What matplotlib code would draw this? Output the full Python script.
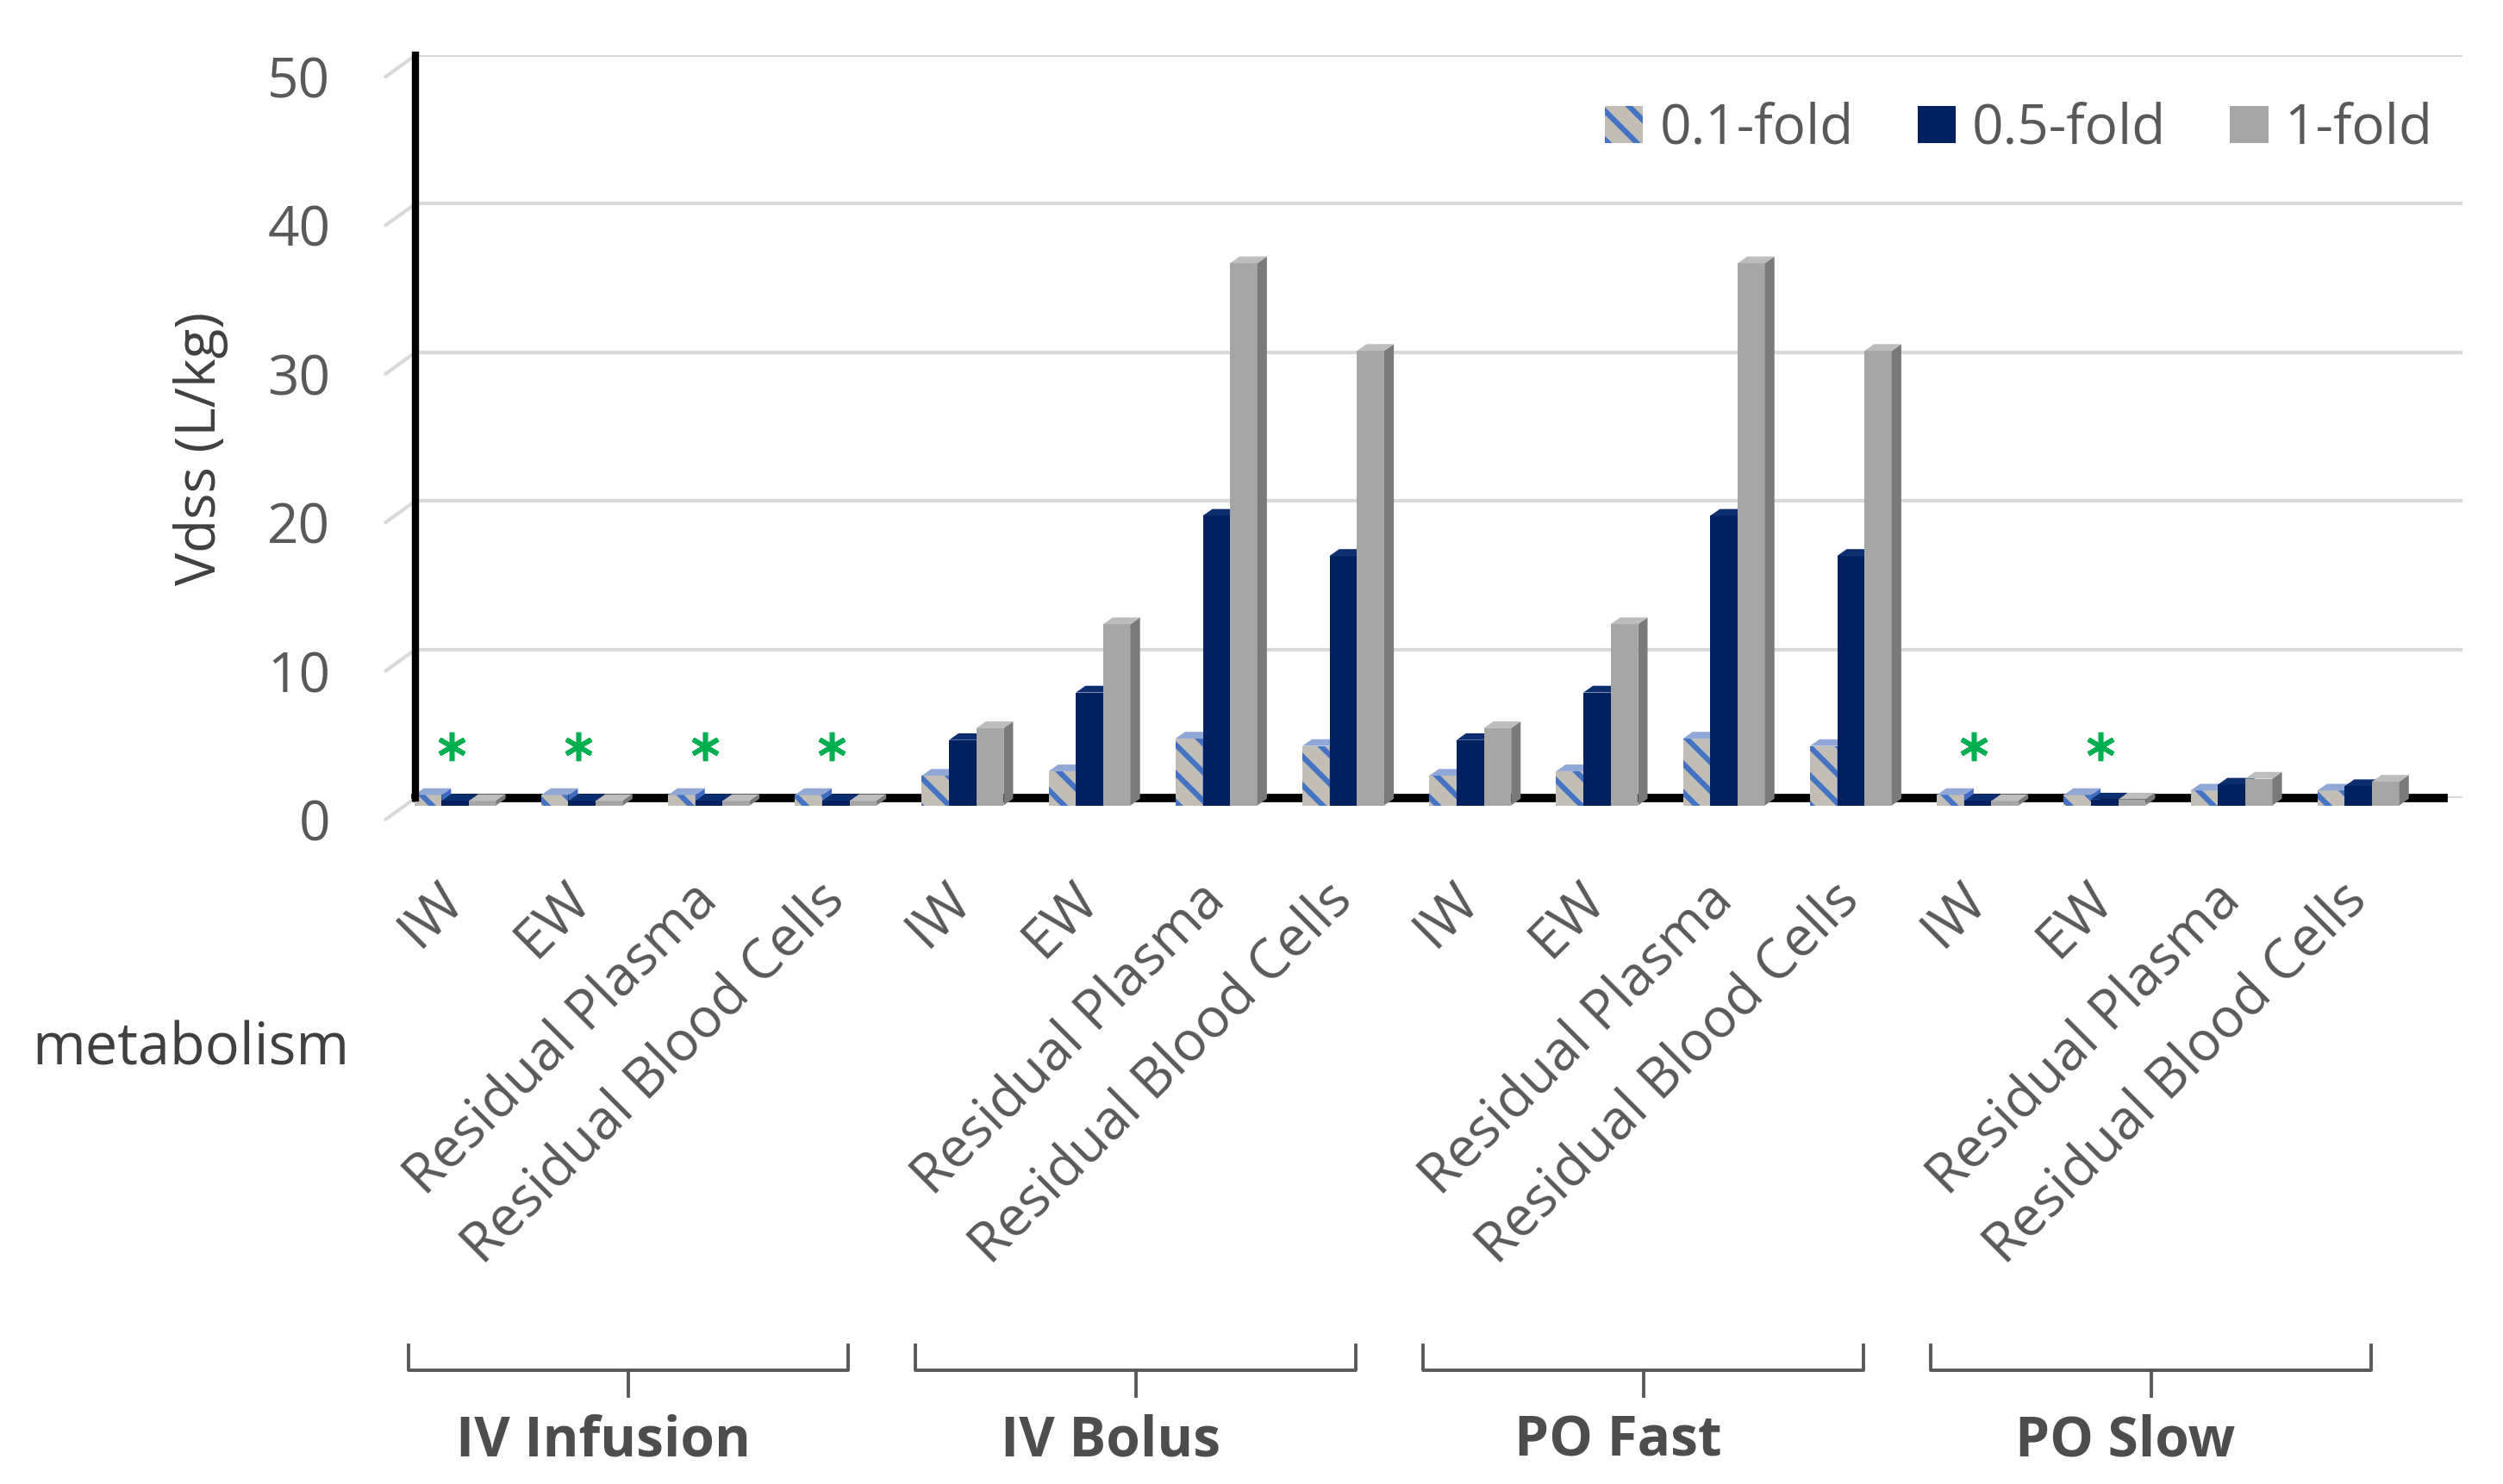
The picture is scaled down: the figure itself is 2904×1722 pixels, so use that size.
import matplotlib
matplotlib.use("Agg")
import matplotlib.pyplot as plt
from matplotlib.patches import Polygon
from matplotlib.transforms import blended_transform_factory, ScaledTranslation

plt.rcParams['font.family'] = ['Open Sans', 'DejaVu Sans']
plt.rcParams['hatch.linewidth'] = 4.5

# data
categories = ['IW', 'EW', 'Residual Plasma', 'Residual Blood Cells'] * 4
groups = ['IV Infusion', 'IV Bolus', 'PO Fast', 'PO Slow']
series = ['0.1-fold', '0.5-fold', '1-fold']
fold_01 = [0.7, 0.7, 0.7, 0.7, 2.0, 2.3, 4.5, 4.0, 2.0, 2.3, 4.5, 4.0, 0.7, 0.7, 1.0, 1.0]
fold_05 = [0.3, 0.3, 0.3, 0.3, 4.4, 7.6, 19.5, 16.8, 4.4, 7.6, 19.5, 16.8, 0.3, 0.4, 1.4, 1.3]
fold_1 = [0.3, 0.3, 0.3, 0.3, 5.2, 12.2, 36.5, 30.6, 5.2, 12.2, 36.5, 30.6, 0.3, 0.4, 1.8, 1.6]
star_idx = [0, 1, 2, 3, 12, 13]
star_val = 3.5
yticks = [0, 10, 20, 30, 40, 50]

faces = ['#C2BEB6', '#002060', '#A6A6A6']
sides = ['#3F6BC0', '#001038', '#7A7A7A']
tops = ['#8FA8D8', '#0A2E70', '#BDBDBD']
hatches = ['\\', None, None]
TXT = '#595959'

fig = plt.figure(figsize=(29.04, 17.22), dpi=100)
ax = fig.add_axes([0.166, 0.4623, 0.8178, 0.5005])

w = 0.215
dx, dy = 0.075, 0.45
base = -0.5  # front floor sits a little below the back wall
x = list(range(len(categories)))
for k, vals in enumerate([fold_01, fold_05, fold_1]):
    pos = [i + (k - 1) * w for i in x]
    bars = ax.bar(pos, vals, width=w, bottom=base, color=faces[k], hatch=hatches[k],
                  edgecolor='#4472C4' if hatches[k] else faces[k], linewidth=0,
                  label=series[k], zorder=3 + k)
    for b in bars:
        b.set_clip_on(False)
    for p, h in zip(pos, vals):
        x0, x1 = p - w / 2, p + w / 2
        t = base + h
        ax.add_patch(Polygon([(x1, base), (x1 + dx, base + dy), (x1 + dx, t + dy), (x1, t)],
                             closed=True, facecolor=sides[k], edgecolor='none', zorder=3 + k,
                             clip_on=False))
        ax.add_patch(Polygon([(x0, t), (x0 + dx, t + dy), (x1 + dx, t + dy), (x1, t)],
                             closed=True, facecolor=tops[k], edgecolor='none', zorder=3 + k,
                             clip_on=False))

ax.plot([i - 0.03 for i in star_idx], [star_val] * len(star_idx), linestyle='none',
        marker=(6, 2, 0), markersize=24, markeredgewidth=4, color='#00B050', zorder=8)

ax.set_xlim(-0.3125, 15.82)
ax.set_ylim(0, 50)
ax.set_yticks(yticks)
ax.grid(axis='y', color='#D9D9D9', linewidth=3, zorder=0)
ax.set_axisbelow(True)
for s in ['top', 'right']:
    ax.spines[s].set_visible(False)
ax.spines['left'].set_linewidth(6)
ax.spines['left'].set_zorder(9)
ax.spines['bottom'].set_linewidth(7)
ax.spines['bottom'].set_bounds(-0.3125, 15.67)
ax.spines['bottom'].set_zorder(2)

ax.tick_params(axis='y', length=0, pad=71, labelsize=46, labelcolor=TXT)
for lab in ax.get_yticklabels():
    lab.set_transform(lab.get_transform() + ScaledTranslation(0, -0.25, fig.dpi_scale_trans))
for g in yticks:
    ax.annotate('', xy=(-0.3125, g), xycoords='data', xytext=(-25, -18),
                textcoords='offset points', annotation_clip=False,
                arrowprops=dict(arrowstyle='-', color='#D9D9D9', lw=3, shrinkA=0, shrinkB=0))

ax.set_xticks(x)
ax.set_xticklabels(categories)
ax.tick_params(axis='x', length=0, pad=78, labelsize=46, labelcolor=TXT)
for lab in ax.get_xticklabels():
    lab.set_rotation(45)
    lab.set_rotation_mode('anchor')
    lab.set_ha('right')
    lab.set_va('center')

fig.text(233 / 2904, 1 - 520 / 1722, 'Vdss (L/kg)', rotation=90, ha='center', va='center',
         fontsize=46, color='#404040')
fig.text(37 / 2904, 1 - 1235 / 1722, 'metabolism', ha='left', va='baseline',
         fontsize=48, color='#404040')

tr = blended_transform_factory(ax.transData, fig.transFigure)
yt, yb, ye = 1 - 1561 / 1722, 1 - 1590 / 1722, 1 - 1620 / 1722
for gi, name in enumerate(groups):
    a, b = gi * 4 - 0.37, gi * 4 + 3 + 0.1
    m = (a + b) / 2
    ax.plot([a, a, b, b], [yt, yb, yb, yt], transform=tr, clip_on=False, color=TXT, lw=2.8)
    ax.plot([m, m], [yb, ye], transform=tr, clip_on=False, color=TXT, lw=2.8)
    ax.text(m - 0.2, 1 - 1690 / 1722, name, transform=tr, ha='center', va='baseline',
            fontsize=46, fontweight='bold', color='#4D4D4D')

fig.legend(loc='center right', bbox_to_anchor=(0.983, 0.913), ncol=3, frameon=False,
           fontsize=46, labelcolor=TXT, handlelength=0.69, handleheight=0.67,
           handletextpad=0.3, columnspacing=1.16, borderpad=0)

fig.savefig('out.png', dpi=100)
